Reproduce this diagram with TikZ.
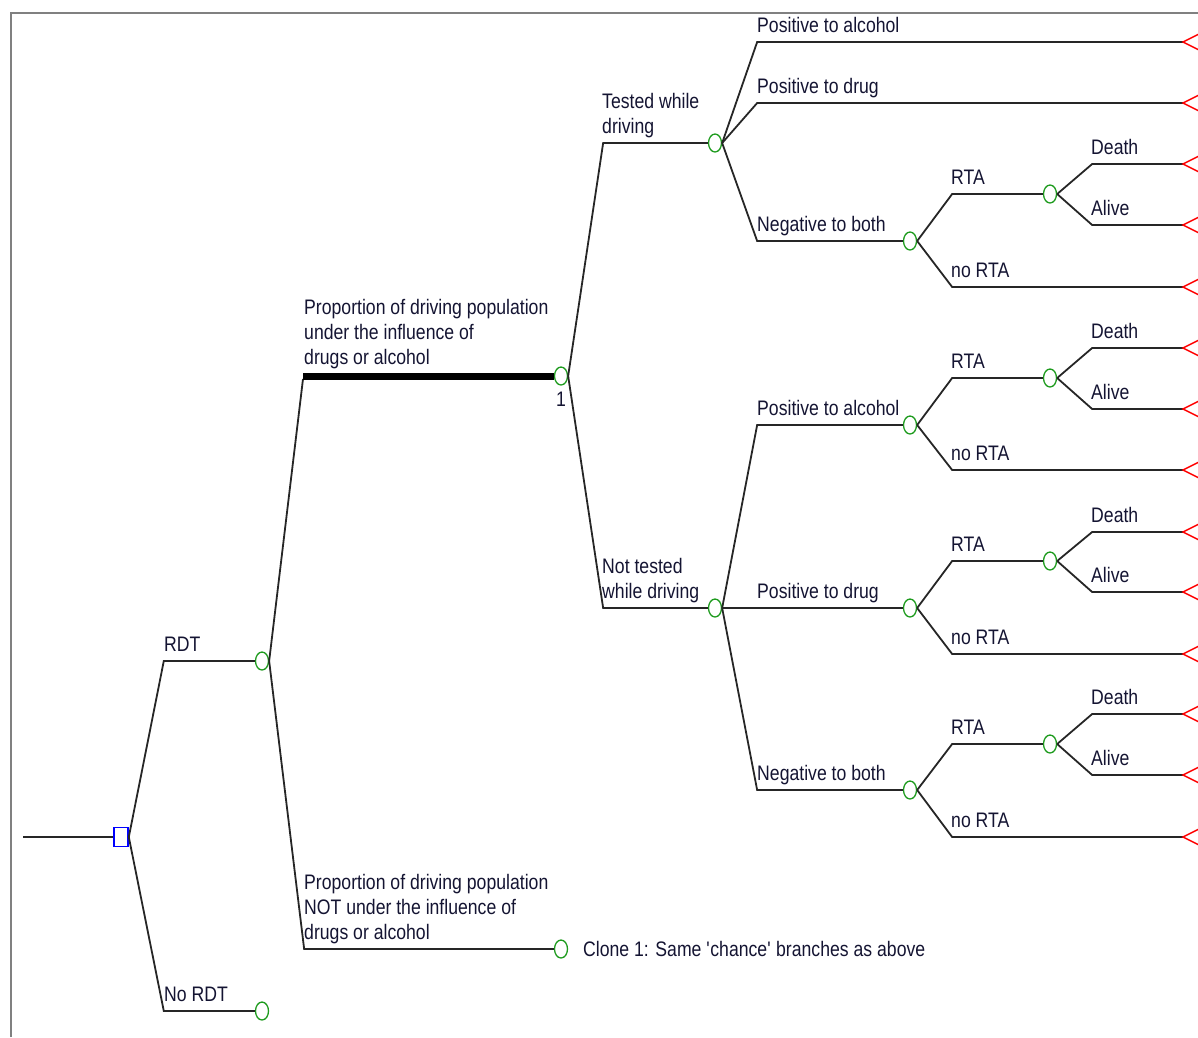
\documentclass[tikz,border=0pt]{standalone}
\usepackage{fontspec}
\setmainfont[FakeStretch=0.84]{Liberation Sans}
\usetikzlibrary{shapes.geometric,calc}
\definecolor{chancegreen}{RGB}{30,155,30}
\definecolor{framegray}{RGB}{128,128,128}
\definecolor{txt}{RGB}{20,20,50}
\newcommand\lblfont{\fontsize{21}{25}\selectfont}
\newcommand\mylines[1]{\begin{tabular}[b]{@{}l@{}}#1\end{tabular}}
\begin{document}
\begin{tikzpicture}[x=1pt,y=-1pt,
  br/.style={draw=black!85, line width=1.8pt},
  thickbr/.style={draw=black, line width=7pt},
  branch/.style={to path={let \p1=(\tikztostart), \p2=(\tikztotarget) in -- (\x1+35pt,\y2) -- (\tikztotarget)}},
  chance/.style={ellipse, draw=chancegreen, line width=1.3pt, minimum width=13pt, minimum height=18pt, inner sep=0pt},
  decision/.style={rectangle, draw=blue, line width=1.6pt, minimum width=14pt, minimum height=19pt, inner sep=0pt},
  lbl/.style={anchor=base west, inner sep=0pt, font=\lblfont, text=txt},
  termpic/.pic={\draw[draw=red, line width=1.4pt] (16,-8) -- (0,0) -- (16,8);}
]
\useasboundingbox (0,0) rectangle (1198,1037);
% frame
\draw[framegray, line width=2pt] (11,1037) -- (11,13) -- (1198,13);

% root
\coordinate (start) at (23,837);
\node[decision] (d0) at (121,837) {};
\draw[br] (start) -- (d0.west);

% level 1
\node[chance] (rdt) at (262,661) {};
\node[chance] (nordt) at (262,1011) {};
\draw[br] (d0.east) to[branch] (rdt.west);
\draw[br] (d0.east) to[branch] (nordt.west);
\node[lbl] at (164,651) {RDT};
\node[lbl] at (164,1001) {No RDT};

% level 2
\node[chance] (inf) at (561,376) {};
\node[chance] (notinf) at (561,949) {};
\coordinate (infc) at (303,376);
\draw[br] (rdt.east) -- ([yshift=-3pt]infc);
\draw[thickbr] (infc) -- (inf.west);
\draw[br] (rdt.east) to[branch] (notinf.west);
\node[lbl] at (304,364) {\mylines{Proportion of driving population\\under the influence of\\drugs or alcohol}};
\node[lbl] at (304,939) {\mylines{Proportion of driving population\\NOT under the influence of\\drugs or alcohol}};
\node[inner sep=0pt, font=\lblfont, text=txt] (one) at (561,399) {1};
\node[anchor=west, inner sep=0pt, font=\lblfont, text=txt] (clone) at (583,949) {Clone 1: Same \textquotesingle chance\textquotesingle\ branches as above};

% level 3
\node[chance] (test) at (715,143) {};
\node[chance] (ntest) at (715,608) {};
\draw[br] (inf.east) to[branch] (test.west);
\draw[br] (inf.east) to[branch] (ntest.west);
\node[lbl] at (602,133) {\mylines{Tested while\\driving}};
\node[lbl] at (602,598) {\mylines{Not tested\\while driving}};

% tested branch
\coordinate (t1) at (1183,42);
\coordinate (t2) at (1183,103);
\node[chance] (tneg) at (910,241) {};
\draw[br] (test.east) to[branch] (t1);
\draw[br] (test.east) to[branch] (t2);
\draw[br] (test.east) to[branch] (tneg.west);
\node[lbl] at (757,32) {Positive to alcohol};
\node[lbl] at (757,93) {Positive to drug};
\node[lbl] at (757,231) {Negative to both};

\node[chance] (tnegr) at (1050,194) {};
\coordinate (t3) at (1183,164);
\coordinate (t4) at (1183,225);
\coordinate (t5) at (1183,287);
\draw[br] (tneg.east) to[branch] (tnegr.west);
\draw[br] (tneg.east) to[branch] (t5);
\draw[br] (tnegr.east) to[branch] (t3);
\draw[br] (tnegr.east) to[branch] (t4);
\node[lbl] at (951,184) {RTA};
\node[lbl] at (951,277) {no RTA};
\node[lbl] at (1091,154) {Death};
\node[lbl] at (1091,215) {Alive};

% not tested branch
\node[chance] (na) at (910,425) {};
\node[chance] (nd) at (910,608) {};
\node[chance] (nn) at (910,790) {};
\draw[br] (ntest.east) to[branch] (na.west);
\draw[br] (ntest.east) to[branch] (nd.west);
\draw[br] (ntest.east) to[branch] (nn.west);
\node[lbl] at (757,415) {Positive to alcohol};
\node[lbl] at (757,598) {Positive to drug};
\node[lbl] at (757,780) {Negative to both};

% alcohol
\node[chance] (nar) at (1050,378) {};
\coordinate (t6) at (1183,348);
\coordinate (t7) at (1183,409);
\coordinate (t8) at (1183,470);
\draw[br] (na.east) to[branch] (nar.west);
\draw[br] (na.east) to[branch] (t8);
\draw[br] (nar.east) to[branch] (t6);
\draw[br] (nar.east) to[branch] (t7);
\node[lbl] at (951,368) {RTA};
\node[lbl] at (951,460) {no RTA};
\node[lbl] at (1091,338) {Death};
\node[lbl] at (1091,399) {Alive};

% drug
\node[chance] (ndr) at (1050,561) {};
\coordinate (t9) at (1183,532);
\coordinate (t10) at (1183,592);
\coordinate (t11) at (1183,654);
\draw[br] (nd.east) to[branch] (ndr.west);
\draw[br] (nd.east) to[branch] (t11);
\draw[br] (ndr.east) to[branch] (t9);
\draw[br] (ndr.east) to[branch] (t10);
\node[lbl] at (951,551) {RTA};
\node[lbl] at (951,644) {no RTA};
\node[lbl] at (1091,522) {Death};
\node[lbl] at (1091,582) {Alive};

% negative
\node[chance] (nnr) at (1050,744) {};
\coordinate (t12) at (1183,714);
\coordinate (t13) at (1183,775);
\coordinate (t14) at (1183,837);
\draw[br] (nn.east) to[branch] (nnr.west);
\draw[br] (nn.east) to[branch] (t14);
\draw[br] (nnr.east) to[branch] (t12);
\draw[br] (nnr.east) to[branch] (t13);
\node[lbl] at (951,734) {RTA};
\node[lbl] at (951,827) {no RTA};
\node[lbl] at (1091,704) {Death};
\node[lbl] at (1091,765) {Alive};

% terminal markers
\foreach \t in {t1,t2,t3,t4,t5,t6,t7,t8,t9,t10,t11,t12,t13,t14}
  \pic at (\t) {termpic};
\end{tikzpicture}
\end{document}
